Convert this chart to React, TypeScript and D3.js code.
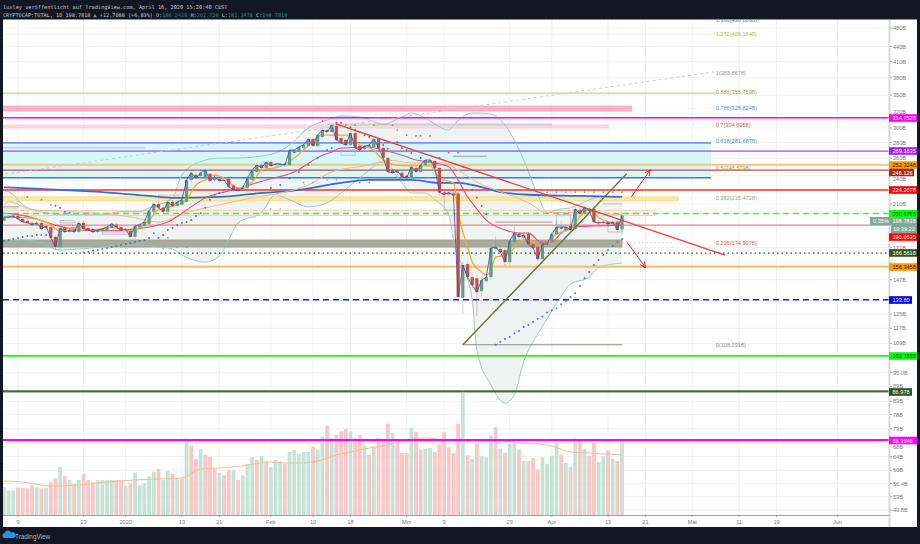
import React from "react";
import * as d3 from "d3";

const firstDay = "2019-12-06";
const opens = [194,196.6,196.6,198.4,195.7,193.9,192.1,190.3,192.1,187.5,188.3,179.8,171.6,187.5,184,185.7,184,192.1,187.5,186.6,184,184.9,185.7,187.5,190.3,188.3,185.7,184.9,179.8,188.3,189.2,191.2,202.4,210,206.2,202.4,212,208.1,209.1,212,235,240.6,239.4,237.2,241.9,235,236.2,234,236.2,228.8,225.4,224.4,226.5,235,244,252,248.7,255.7,252,252,253.4,252,266.8,269.3,273.1,275.7,284.9,275.7,287.5,297.1,294.4,302.8,286.2,283.5,276.9,293,275.7,271.8,274.4,274.4,284.9,273.1,260.6,246.4,243,243,239.6,237.4,248.7,244.1,252.2,255.7,256.9,248.7,221.5,219.5,220.5,220.5,134.9,158.2,148.8,148,139.3,146,148.8,169.8,169.8,169,159.7,175.6,182.3,178.9,182.3,173.8,171.4,162,173,176.4,182.3,186.6,185.7,189.2,186.6,204,201.1,205,205,192.8,191.9,192.8,191,192.8,186.24];
const closes = [197.5,197.5,198.4,195.7,193,192.1,190.3,192.1,186.6,189.2,179,171.6,187.5,184,185.7,184,192.1,186.6,185.7,184,185.7,186.6,188.3,191.2,188.3,185.7,186.6,179.8,189.2,190.3,193,203.3,210,206.2,202.4,212,208.1,212,214,235,243,237.2,243,246.3,234,238.4,234,235,227.5,224.4,223.4,226.5,237.2,246.3,252,248.7,255.7,251,253.4,253.4,252,270.5,270.5,274.4,276.9,284.9,275.7,290.2,297.1,294.4,304.2,283.5,279.6,276.9,293,273.1,270.5,275.7,276.9,284.9,273.1,260.6,244.1,243,245.3,238.5,237.4,249.9,244.1,252.2,258.1,258.1,248.7,221.5,219.5,221.5,218.5,135.5,157.5,148.8,143.3,138.7,146.7,148.8,170.6,171.4,167.4,159.7,176.4,183.1,179.7,181.4,173.8,170.6,162,173.8,173.8,182.3,188.3,188.3,188.3,185.7,205,200.2,206.9,203.1,192.8,191.9,192.8,191,192.8,185.7,198.78];
const highs = [199,199,200,200,197,195,193,193.5,193.5,190,190,181,189,189,187,187,193.5,194,188.5,187.5,186.5,188,189,192,192,189.5,188,186,190.5,191.5,195,205,212,212,207.5,213.5,214,213.5,216,237,246,243,244,248,243,240,238,237,238,230,226.5,228,239,247,254,254,257,257,255,255,255,272,272,276,278,286,286,292,299,299,306,305,288,285,295,295,277,277,278,286,286,275,262,248,247,245,241,251,250,253,260,260,258,250,223,223,222,222,160,160,150,150,148,150,172,180,171,170.5,178,189,184,183,184,175,173,175,175,184,194,194,190,191,207,206,208,207,207,195,194,194,194,194,202.73];
const lows = [193,195.5,196,195,192,191,189,189,186,186.5,178,168.5,167.5,183,183,183,183,186,185,183,183,184,185,187,188,185,185,178.5,178,187.5,188.5,190,201,205,201,201,207,207,208,211,233,236,238,236,233,233,233,232.5,226,223,222,223,225,234,243,247,247.5,250,250.5,250.5,250,251,265,268,272,275,274,274,286,293,293,282,278,275,275.5,271,269,270,273,273,271.5,259,242.5,241.5,241.5,237,236,236,243,243,251,254.5,247,219,217,218,217,131,125.3,147,141,123.8,136,145,147,168.5,166,157,156.5,174,178,177,172,169,160,160.5,171.5,175,181,185,184,184,185,199,200,202,191,190,190.5,189,189.5,183,181.35];
const volumes = [27.7,24.3,24.3,27.3,27.3,26.7,29.7,27.7,26.7,27.3,32.7,36.7,48.3,39,35,31,35,41,35,32.7,35,35,35,35,35,35,29,31.7,42.3,29.7,31.7,39,43.3,46,35,44.3,41,36.7,36.7,76.7,69.3,56,65.7,60,58.3,46,42.3,39.7,45,45,35,39.7,51,57.7,55,59,53.7,47.7,55,53.7,51,63,65,61,63,63,68.3,65.3,78.7,89.7,77,80.3,83.7,86,83.7,77,80.3,69.3,60,67.7,77,75.3,91.3,82,75.3,62,62,87,83,65.3,66.3,67,63,70.3,82.7,67.7,62,91.3,125,59.7,56,71.3,58.7,57.7,79.3,87.7,66.3,62,71,72,65.3,54.3,53.7,57,45.3,57.7,51.3,59.3,72,60.3,52,47.7,77,74.7,66.3,59.3,72,53,58.7,64.7,56.3,54,74.3];
const volumeSides = "gggrrrrgrgrrgrgrgrrrggggrrgrgggggrggrgrgrrgrrrgrrgrgggrgrgggrgggggrggrgrrrgrrgrgrrrgrrrgrrggrrrrrrgrgrgggrgrggrgrrrggggrgrgrgrrggrgrg";
const volumeMaDays = [-3,1,7,9,15,18,25,30,35,39,43,48,54,57,61,64,68,72,75,79,82,87,93,97,100,103,104,107,111,114,118,122,125,129];
const volumeMa = [34,33,29,29,31,32.5,35,36,37,46,47,49,53,52,52,54,60,64,67,70,74,77,74,75,74,72,73.7,72,71,69,63,62,61,60];

const bandDays = [-3,-1,1,5,9,13,18,22,26,28,33,35,40,43,45,47,52,55,58,62,66,69,73,78,82,84,87,89,92,93,97,98,101,104,106,108,111,113,115,118,122,124,129];
const bandUpper = [224.3,219.2,209.1,202.4,199.6,199.6,199.6,202.4,202.4,206.2,216,240.5,258,260.4,260.4,260.4,263,266.8,276.9,300,311.4,317.4,316,305.6,316,321.9,314.4,305.6,297.1,304.2,321.9,321.9,320.3,304.2,283.5,258,219.2,201.6,204.3,206.2,214,217,217];
const bandLower = [171.4,176.4,177.2,174.7,169,169.8,171.4,173,173,172.2,169.8,165.1,159.7,164.3,177.2,192,201.6,219.2,214,207.1,211,221,237.1,255.5,231.7,221,221,214,199.6,177.2,133.6,105.6,89.6,82.3,85.6,100,113.9,122.3,131.4,144,148.8,155.7,159];

const emaFast: [number, number][] = [[-3,197],[0,197],[6,193],[9,184.8],[10,187],[13,187.9],[16,186],[20,188],[24,184.8],[26,188],[28,194.6],[30,204.3],[34,209],[36,214],[38,229.4],[40,235],[42,240.5],[44,237],[47,226.2],[50,232.5],[52,246],[56,250.5],[59,260.4],[61,270.5],[65,290],[70,290],[73,277],[76,270.5],[78,258],[81,252],[84,251],[88,251],[90,237],[93,231.7],[94,201.6],[96,171.4],[97,159.7],[99,152.4],[100,150.2],[101,153.8],[102,163.5],[104,165],[106,170.6],[107,175.6],[109,178],[111,173],[113,173],[114,178.9],[116,184],[118,186.6],[120,197.7],[122,205],[124,197],[126,193],[128,191],[129,190]];
const emaMid: [number, number][] = [[-2,200.8],[3,197],[8,190],[13,185.7],[18,185],[25,186.6],[32,192.8],[36,204],[40,216],[46,224.3],[53,235],[59,244],[65,264],[67,268],[69,273],[75,274],[78,270.5],[82,264],[85,258],[89,254.6],[92,249.9],[94,235],[96,217],[97,211],[100,194.6],[104,185.7],[107,183],[109,183],[112,174.7],[114,175.6],[116,183],[119,188.4],[123,189.3],[129,190]];
const emaSlow: [number, number][] = [[-3,209],[-2,212],[3,204.3],[12,202.4],[25,196.8],[30,192.8],[36,201.6],[43,209],[50,216],[57,222],[62,229.4],[67,244],[75,252],[79,258],[84,254.6],[91,254.6],[94,246],[99,230],[102,224.3],[109,211],[113,201.6],[117,201.6],[124,200.8],[129,199.6]];
const emaLong: [number, number][] = [[-3,227],[9,224.3],[18,222],[28,218],[33,216],[43,217],[50,220],[60,224.3],[69,231.7],[75,235],[84,235],[90,231.7],[94,231.7],[99,227.2],[103,222],[109,219.2],[120,218],[129,217]];

const sarBlue: [number, number][] = [[-3,176.4],[-2,177.2],[-1,178],[0,178.9],[1,179.7],[2,180.5],[3,180.5],[4,181.4],[5,181.4],[6,181.4],[7,182.3],[8,208.1],[9,206.2],[10,202.4],[11,201.5],[14,167],[15,167.7],[16,168.4],[17,169],[18,169.8],[19,170.6],[20,171.4],[21,172.2],[22,173],[23,173.8],[24,174.7],[25,175.6],[26,176.4],[27,177.2],[28,178.9],[29,183],[30,178.9],[31,181.4],[32,185.7],[33,187.5],[34,190.1],[35,192],[36,192.9],[37,194.6],[38,198.4],[39,201],[40,206.2],[41,214],[42,219.2],[43,221],[50,220],[52,221],[54,226.2],[56,229.4],[58,237],[60,244],[62,252],[64,260.4],[66,270.5],[67,273],[68,307],[69,307],[70,304],[71,301],[72,297],[73,294],[74,290],[75,287.5],[76,283.5],[77,281],[78,277],[79,272],[81,281],[82,273],[83,270.5],[84,266.8],[86,260.4],[90,260.4],[95,249.9],[96,237.4],[97,224.3],[98,216],[99,208],[100,200],[102,108.3],[103,109.8],[104,111.3],[105,112.3],[106,114.3],[107,115.5],[108,117.7],[109,118.8],[110,120.6],[111,122.4],[112,123.6],[113,126],[114,127.4],[115,128.6],[116,131],[117,133],[118,135.5],[119,138],[120,142.7],[121,148],[122,152.4],[123,157.5],[124,161.3],[125,165.1],[126,169],[127,172.2],[128,175.6],[129,178]];
const sarRed: [number, number][] = [[-2,227.2],[0,224.6],[2,217],[5,214],[7,209],[65,310],[68,307],[72,304],[76,304],[80,304],[81,297],[83,290],[85,289],[86,289],[88,289],[92,267],[94,267],[113,222],[115,222],[117,222],[119,222],[121,222],[123,222],[125,222],[127,222],[129,222]];
const sarGreen: [number, number][] = [[28,194],[31,170],[32,179],[34,171],[36,171],[54,205],[56,205],[61,232],[63,232],[66,235],[68,235],[70,232],[73,232],[75,232]];

const levelValues = [314.75,269.16,252.32,246.13,224.21,200.68,190.06,166.56,156.35,133.8,102.78,86.98,69.2];
const levelLabels = ["314.7528","269.1635","252.3248","246.126","224.2078","200.6768","190.0635","166.5618","156.3458","133.80","102.7838","86.978","68.3546"];
const bandEdges: [number, number, string][] = [[354.3,352.3,"2020-05-06"],[332.6,324.9,"2020-04-18"],[304.2,300,"2020-04-13"],[279.6,237.4,"2020-05-05"],[217,213,"2020-04-28"],[203.4,198.7,"2020-04-23"],[177.2,171.4,"2020-04-16"]];
const fibTrails: [number, string][] = [[328.82,"2020-04-18"],[304.7,"2020-04-13"],[215.47,"2020-04-28"]];

const fibLabels = ["1.386(498.8098)","1.272(466.1848)","1(388.8678)","0.886(355.7598)","0.786(328.8248)","0.7(304.6958)","0.618(281.6878)","0.5(248.5798)","0.382(215.4718)","0.236(174.9078)","0(108.2918)"];
const fibPrices = [498.81,466.18,388.87,355.76,328.82,304.7,281.69,248.58,215.47,174.91,108.29];

const priceTicks = [480,440,410,380,350,320,300,280,260,240,210,171,159,147,125,117,109,95,89,83,78,73,68,64,60,56.4,53,49.8];
const priceTickLabels = ["480B","440B","410B","380B","350B","320B","300B","280B","260B","240B","210B","171B","","147B","125B","117B","109B","95.0B","89B","83B","78B","73B","68B","64B","60B","56.4B","53B","49.8B"];
const timeTickDates = ["2019-12-09","2019-12-23","2020-01-01","2020-01-13","2020-01-21","2020-02-01","2020-02-10","2020-02-18","2020-03-01","2020-03-09","2020-03-23","2020-04-01","2020-04-13","2020-04-21","2020-05-01","2020-05-11","2020-05-19","2020-06-01"];
const timeTickLabels = ["9","23","2020","13","21","Feb","10","18","Mrz","9","23","Apr","13","21","Mai","11","19","Jun"];
const rangeBoxes: [number, number, number, number][] = [[-3,0,207.6,206],[9,12,194,192],[18,24,184,182],[30,36,219,216],[69,72,270.5,264],[91,94,221,204],[102,114,193,192.5],[115,118,199.6,189],[125,129,210,209.9],[126,129,193,184],[95,95,156,108.3],[93,100,263,262]];

const W = 920, H = 544;
const day = (d: number) => {
  const t = new Date(Date.UTC(2019, 11, 9));
  t.setUTCDate(t.getUTCDate() + d);
  return t;
};
const parse = (s: string) => new Date(s + "T00:00:00Z");
const x = d3.scaleUtc().domain([parse("2019-12-09"), parse("2020-04-13")]).range([18, 608]);
const y = d3.scaleLog().domain([480, 49.8]).range([28, 510]);
const yVol = d3.scaleLinear().domain([0, 125]).range([515, 390]);
const X = (d: number) => x(day(d));
const start = parse(firstDay);
const dayOffset = (Math.round((+start - +parse("2019-12-09")) / 864e5));
const lineOf = d3.line<[number, number]>().x((p) => X(p[0])).y((p) => y(p[1])).curve(d3.curveMonotoneX);

const GREEN = "#5f9e7e", RED = "#c9503e";
const levelStyle = [
  { s: "#ff00ff", w: 1.6, bg: "#ff00ff", t: "#fff", r: 917, ly: 118 },
  { s: "#b43cff", w: 1.3, bg: "#a81cff", t: "#fff", r: 917, ly: 151 },
  { s: "#f7c27a", w: 2, bg: "#ff9800", t: "#222", r: 917, ly: 165 },
  { s: "#c0503c", w: 1.3, bg: "#a92a12", t: "#fff", r: 914, ly: 172.5 },
  { s: "#f23030", w: 1.4, bg: "#ff0000", t: "#fff", r: 917, ly: 190 },
  { s: "#55e055", w: 1.5, bg: "#00ff00", t: "#143", r: 917, ly: 213.7, dash: "6 4" },
  { s: "#f0808c", w: 1.2, bg: "#ff0000", t: "#fff", r: 917, ly: 237 },
  { s: "#3a5320", w: 1.3, bg: "#33531c", t: "#fff", r: 917, ly: 253, dash: "1.5 3" },
  { s: "#fbbf74", w: 2.2, bg: "#ff9800", t: "#222", r: 917, ly: 267 },
  { s: "#1a1af0", w: 1.3, bg: "#0000ff", t: "#fff", r: 912, ly: 300, dash: "6 4" },
  { s: "#22ee22", w: 1.6, bg: "#00ff00", t: "#143", r: 917, ly: 356 },
  { s: "#4a6a30", w: 1.8, bg: "#33531c", t: "#fff", r: 912, ly: 392 },
  { s: "#ff00ff", w: 2, bg: "#ff00ff", t: "#fff", r: 917, ly: 440.5 },
];
const bandStyle = [
  { f: "#bcc6bd", s: "#dfe3c8" },
  { f: "#ffb3cb", s: "#ffa0bd" },
  { f: "#ffd9e0", s: "#ffc4d0" },
  { f: "#d6f8fb", s: "none" },
  { f: "#fbe9a6", s: "#f7d77a" },
  { f: "#f2f7ea", s: "#f0c9a6" },
  { f: "#aaab9c", s: "#9a9b8a" },
];
const fibColors = ["#5f7fb8","#a7c13f","#9a9a9a","#9c9c3c","#4a90c4","#e0504a","#3f8fc0","#7cb24c","#7cb24c","#e0504a","#8a8a8a"];
const fontUi = "'Liberation Sans', Arial, sans-serif";
const fontMono = "'DejaVu Sans Mono', monospace";
const tickNudge = (v: number) => (v === 320 ? -2.5 : v === 240 ? 4 : v === 68 ? 3.5 : 0);

export default function App() {
  const bandArea = d3.area<number>()
    .x((d) => X(d))
    .y0((_, i) => y(bandLower[i]))
    .y1((_, i) => y(bandUpper[i]))
    .curve(d3.curveMonotoneX);
  const bandUp = d3.line<number>().x((d) => X(d)).y((_, i) => y(bandUpper[i])).curve(d3.curveMonotoneX);
  const bandLo = d3.line<number>().x((d) => X(d)).y((_, i) => y(bandLower[i])).curve(d3.curveMonotoneX);
  const closeLine = d3.line<number>().x((_, i) => X(i + dayOffset)).y((c) => y(c));
  const volLine = d3.line<number>().x((_, i) => X(volumeMaDays[i])).y((v) => yVol(v)).curve(d3.curveMonotoneX);
  const x0 = 3, x1 = 889;
  return (
    <svg width={W} height={H} style={{ position: "absolute", left: 0, top: 0, background: "#131722" }}>
      <defs>
        <clipPath id="plot"><rect x={x0} y={20} width={x1 - x0} height={495} /></clipPath>
        <marker id="head" viewBox="0 0 10 10" refX="9" refY="5" markerWidth="7" markerHeight="7" orient="auto">
          <path d="M1 1 L9 5 L1 9" fill="none" stroke="#f01e1e" strokeWidth="1.4" />
        </marker>
      </defs>
      <rect x={3} y={19.5} width={914} height={507.5} fill="#fff" />
      <text x={3} y={8.5} fontFamily={fontMono} fontSize={5.25} fill="#c8ccd4">luxley veröffentlicht auf TradingView.com, April 16, 2020 15:20:40 CEST</text>
      <text x={3} y={16.5} fontFamily={fontMono} fontSize={5.2} fill="#c8ccd4">
        CRYPTOCAP:TOTAL, 1D 198.7818 <tspan fill="#53b987">▲</tspan> +12.7088 (+6.83%) O:<tspan fill="#2f8f80">186.2428</tspan> H:<tspan fill="#2f8f80">202.728</tspan> L:<tspan fill="#2f8f80">181.3478</tspan> C:<tspan fill="#2f8f80">198.7818</tspan>
      </text>
      <g clipPath="url(#plot)">
        {priceTicks.map((v) => <line key={v} x1={x0} x2={x1} y1={y(v)} y2={y(v)} stroke="#f1f2f3" strokeWidth={1} />)}
        {timeTickDates.map((t) => <line key={t} x1={x(parse(t))} x2={x(parse(t))} y1={20} y2={515} stroke="#f0f1f2" strokeWidth={1} />)}

        <path d={bandArea(bandDays) ?? ""} fill="#eff3f1" />

        {bandEdges.map(([a, b, end], i) => (
          <rect key={i} x={x0} width={x(parse(end)) - x0} y={y(a)} height={y(b) - y(a)} fill={bandStyle[i].f} stroke={bandStyle[i].s} strokeWidth={0.8} />
        ))}
        {fibTrails.map(([v, from]) => (
          <line key={v} x1={x(parse(from))} x2={X(149)} y1={y(v)} y2={y(v)} stroke="#e6e8ea" strokeWidth={0.8} strokeDasharray="2 2" />
        ))}
        <line x1={x0} x2={x(parse("2020-05-05"))} y1={y(279.6)} y2={y(279.6)} stroke="#4a6fe0" strokeWidth={1.3} />
        <line x1={x0} x2={145} y1={y(273.5)} y2={y(273.5)} stroke="#c4cdc9" strokeWidth={1.2} />
        <line x1={x0} x2={x(parse("2020-05-05"))} y1={y(237.4)} y2={y(237.4)} stroke="#4a6fe8" strokeWidth={1.5} />
        <line x1={x0} x2={715} y1={y(466.18)} y2={y(466.18)} stroke="#eaf5d8" strokeWidth={1} />
        <line x1={x0} x2={715} y1={y(498.81)} y2={y(498.81)} stroke="#cfd2d6" strokeWidth={0.8} strokeDasharray="2 2" />
        <line x1={X(66.7)} x2={X(114.3)} y1={y(305)} y2={y(305)} stroke="#cfcfcf" strokeWidth={2} />

        <path d={bandUp(bandDays) ?? ""} fill="none" stroke="#8fc6c4" strokeWidth={0.9} />
        <path d={bandLo(bandDays) ?? ""} fill="none" stroke="#8fc6c4" strokeWidth={0.9} />

        {levelValues.map((v, i) => {
          const st = levelStyle[i];
          return <line key={v} x1={x0} x2={x1} y1={y(v)} y2={y(v)} stroke={st.s} strokeWidth={st.w} strokeDasharray={st.dash} />;
        })}

        {rangeBoxes.map(([a, b, p, q], i) => (
          <rect key={i} x={X(a)} width={X(b) - X(a)} y={y(p)} height={y(q) - y(p)} fill="none" stroke="#b5b5b5" strokeWidth={0.8} />
        ))}
        <line x1={X(95.3)} x2={X(129)} y1={y(108.29)} y2={y(108.29)} stroke="#8c8c80" strokeWidth={1} />
        <line x1={X(129)} x2={X(140)} y1={y(174.91)} y2={y(174.91)} stroke="#f6b8b8" strokeWidth={0.7} strokeDasharray="2 2" />

        {volumes.map((v, i) => (
          <rect key={i} x={X(i + dayOffset) - 1.9} width={3.8} y={yVol(v)} height={515 - yVol(v)} fill={volumeSides[i] === "g" ? "#c6e4d5" : "#f9c7c7"} />
        ))}
        <path d={volLine(volumeMa) ?? ""} fill="none" stroke="#f5bd94" strokeWidth={1} />
        <line x1={x0} x2={x1} y1={y(69.2)} y2={y(69.2)} stroke="#ff00ff" strokeWidth={2} />
        <line x1={x0} x2={x1} y1={y(86.98)} y2={y(86.98)} stroke="#4a6a30" strokeWidth={1.8} />

        <path d={lineOf(emaLong) ?? ""} fill="none" stroke="#2f6fd6" strokeWidth={1.8} />
        <path d={lineOf(emaSlow) ?? ""} fill="none" stroke="#f4b98c" strokeWidth={1} />
        <path d={lineOf(emaMid) ?? ""} fill="none" stroke="#e5527c" strokeWidth={1.1} />
        <path d={lineOf(emaFast) ?? ""} fill="none" stroke="#f5ac2e" strokeWidth={1.3} />

        {opens.map((o, i) => {
          const c = closes[i], px = X(i + dayOffset), col = c >= o ? GREEN : RED;
          const top = y(Math.max(o, c)), bot = y(Math.min(o, c));
          return (
            <g key={i}>
              <line x1={px} x2={px} y1={y(highs[i])} y2={y(lows[i])} stroke={col} strokeOpacity={0.45} strokeWidth={0.8} />
              <rect x={px - 1.6} width={3.2} y={top} height={Math.max(bot - top, 1)} fill={col} />
            </g>
          );
        })}
        <path d={closeLine(closes) ?? ""} fill="none" stroke="#3f45c4" strokeWidth={0.8} />

        {sarBlue.map(([d, p], i) => <circle key={i} cx={X(d)} cy={y(p)} r={1} fill="#4f78b8" />)}
        {sarRed.map(([d, p], i) => <circle key={i} cx={X(d)} cy={y(p)} r={0.9} fill="#f06060" />)}
        {sarGreen.map(([d, p], i) => <circle key={i} cx={X(d)} cy={y(p)} r={0.8} fill="#6dbb6d" />)}

        <line x1={X(-3.2)} y1={y(240.5)} x2={X(149.6)} y2={y(391)} stroke="#c6c6c6" strokeWidth={0.9} strokeDasharray="3 3" />
        <line x1={X(68.2)} y1={y(305.6)} x2={X(151.3)} y2={y(165.1)} stroke="#f03a3a" strokeWidth={1.3} />
        <line x1={X(95.3)} y1={y(108.3)} x2={X(130.3)} y2={y(241.9)} stroke="#5f7a3c" strokeWidth={1.4} />
        <line x1={X(131.2)} y1={y(217)} x2={X(135.5)} y2={y(246.3)} stroke="#f01e1e" strokeWidth={1} markerEnd="url(#head)" />
        <line x1={X(130.1)} y1={y(175.7)} x2={X(134.2)} y2={y(155.7)} stroke="#f01e1e" strokeWidth={1} markerEnd="url(#head)" />

        {fibLabels.map((t, i) => (
          <text key={t} x={X(149.6)} y={y(fibPrices[i]) + 2} fontFamily={fontUi} fontSize={5.6} fill={fibColors[i]}>{t}</text>
        ))}
      </g>

      <line x1={x0} x2={889} y1={515.5} y2={515.5} stroke="#9aa0a6" strokeWidth={1} />
      <rect x={888.5} y={20} width={2} height={507} fill="#d6d8da" />
      {priceTicks.map((v, i) => (
        <g key={v}>
          <line x1={890} x2={892} y1={y(v)} y2={y(v)} stroke="#8a8f96" strokeWidth={0.7} />
          <text x={893} y={y(v) + 2 + tickNudge(v)} fontFamily={fontUi} fontSize={5.6} fill="#777">{priceTickLabels[i]}</text>
        </g>
      ))}
      {timeTickDates.map((t, i) => (
        <g key={t}>
          <line x1={x(parse(t))} x2={x(parse(t))} y1={515} y2={517} stroke="#8a8f96" strokeWidth={0.7} />
          <text x={x(parse(t))} y={524} textAnchor="middle" fontFamily={fontUi} fontSize={5.6} fill="#777">{timeTickLabels[i]}</text>
        </g>
      ))}

      {levelLabels.map((t, i) => {
        const st = levelStyle[i];
        return (
          <g key={t}>
            <rect x={889} y={st.ly - 3.8} width={st.r - 889} height={7.6} fill={st.bg} />
            <text x={892.5} y={st.ly + 2} fontFamily={fontUi} fontSize={5.6} fill={st.t}>{t}</text>
          </g>
        );
      })}
      <rect x={870} y={217} width={47} height={8} fill="#7fa898" />
      <text x={873} y={223} fontFamily={fontUi} fontSize={5.6} fill="#fff">0.35%</text>
      <text x={892.5} y={223} fontFamily={fontUi} fontSize={5.6} fill="#fff">198.7818</text>
      <rect x={891} y={225} width={26} height={8} fill="#7fa898" />
      <text x={893} y={231} fontFamily={fontUi} fontSize={5.6} fill="#fff">10:39:22</text>

      <path d="M4 538 a2.6 2.6 0 0 1 0.6 -5 a3.6 3.6 0 0 1 6.6 -0.6 a3 3 0 0 1 2.6 5.6 z" fill="#2e8fe6" />
      <text x={15} y={538.5} fontFamily={fontUi} fontSize={6.4} fill="#aeb4bd">TradingView</text>
    </svg>
  );
}
